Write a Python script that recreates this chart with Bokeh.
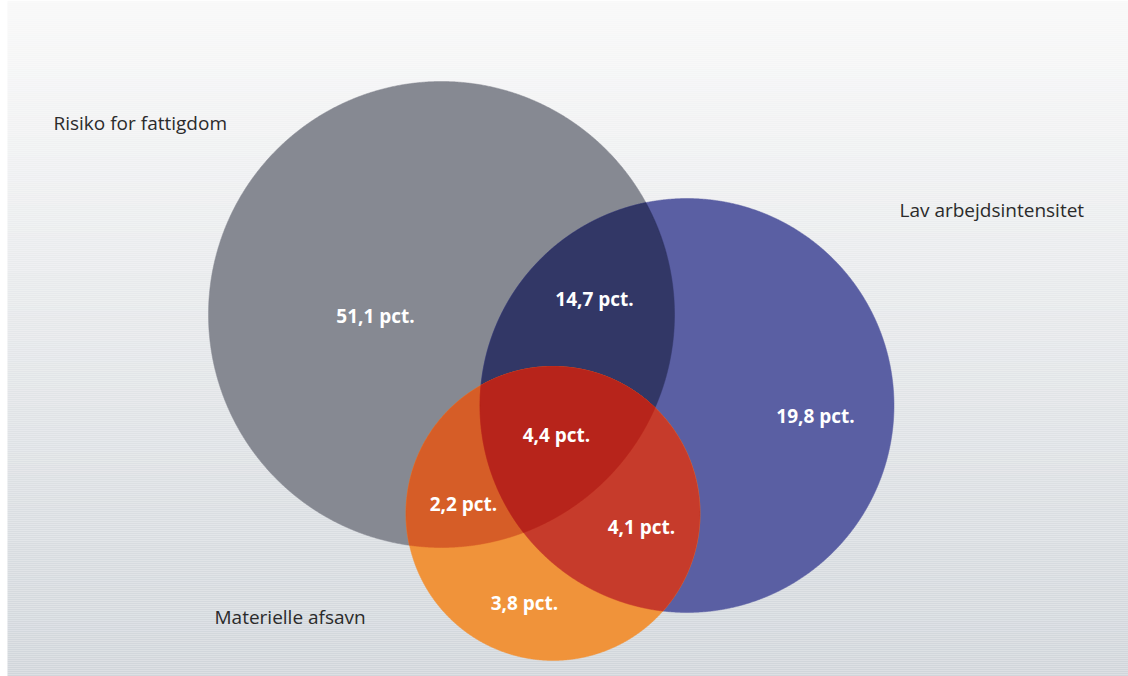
import numpy as np
from bokeh.plotting import figure
from bokeh.models import Range1d, ColumnDataSource
from bokeh.core.properties import value
from bokeh.embed import file_html
from bokeh.resources import INLINE

# ---- data ----
set_names = ["Risiko for fattigdom", "Lav arbejdsintensitet", "Materielle afsavn"]
region_names = ["Kun fattigdom", "Fattigdom + arbejdsintensitet", "Kun arbejdsintensitet",
                "Alle tre", "Fattigdom + afsavn", "Arbejdsintensitet + afsavn", "Kun afsavn"]
region_values = [51.1, 14.7, 19.8, 4.4, 2.2, 4.1, 3.8]

# ---- layout (screen pixel coordinates) ----
circ_cx = [441.0, 686.5, 552.5]
circ_cy = [314.0, 405.0, 513.0]
circ_r = [233.0, 207.0, 147.0]

region_lx = [375, 594, 815, 556, 463, 641, 524]
region_ly = [315, 298, 415, 434, 503, 526, 602]
set_lx = [53, 899, 214]
set_ly = [122, 209, 616]

col_single = ["#868992", "#5a5fa3", "#f0933a"]
col_ab = "#323766"
col_ac = "#d65d27"
col_bc = "#c63b2b"
col_abc = "#b7241b"

W, H = 1128, 676
BG_LEFT = 7

p = figure(width=W, height=H, x_range=Range1d(0, W), y_range=Range1d(H, 0),
           output_backend="svg", toolbar_location=None, min_border=0)
p.axis.visible = False
p.grid.visible = False
p.outline_line_color = None
p.background_fill_color = "white"
p.border_fill_color = None

# background gradient
top_rgb = np.array([249, 249, 249])
bot_rgb = np.array([209, 214, 219])
step = 2
ys = np.arange(0, H, step)
cols = []
for y in ys:
    t = y / H
    c = (top_rgb + (bot_rgb - top_rgb) * t).astype(int)
    cols.append("#%02x%02x%02x" % tuple(c))
p.quad(left=BG_LEFT, right=W, top=ys, bottom=ys + step, fill_color=cols, line_color=None)


def circle_pts(i, n=1440):
    th = np.linspace(0, 2 * np.pi, n, endpoint=False)
    return circ_cx[i] + circ_r[i] * np.cos(th), circ_cy[i] + circ_r[i] * np.sin(th)


def intersection(idx, n=3000):
    xs, ys_ = [], []
    for i in idx:
        x, y = circle_pts(i, n)
        m = np.ones_like(x, dtype=bool)
        for j in idx:
            if j == i:
                continue
            m &= (x - circ_cx[j]) ** 2 + (y - circ_cy[j]) ** 2 <= circ_r[j] ** 2 + 1e-6
        xs.append(x[m])
        ys_.append(y[m])
    x = np.concatenate(xs)
    y = np.concatenate(ys_)
    cx, cy = x.mean(), y.mean()
    order = np.argsort(np.arctan2(y - cy, x - cx))
    return list(x[order]), list(y[order])


shapes = []
for i in range(3):
    x, y = circle_pts(i)
    shapes.append((list(x), list(y), col_single[i]))
    if i == 1:
        x, y = intersection([0, 1])
        shapes.append((x, y, col_ab))
x, y = intersection([0, 2]); shapes.append((x, y, col_ac))
x, y = intersection([1, 2]); shapes.append((x, y, col_bc))
x, y = intersection([0, 1, 2]); shapes.append((x, y, col_abc))

for x, y, c in shapes:
    p.patch(x, y, fill_color=c, line_color=c, line_width=0.5)

labels = [("%.1f" % v).replace(".", ",") + " pct." for v in region_values]
src = ColumnDataSource(dict(x=region_lx, y=region_ly, t=labels))
p.text(x="x", y="y", text="t", source=src, text_font=value("Open Sans"),
       text_font_style="bold", text_font_size="19px", text_color="white",
       text_align="center", text_baseline="middle")

src2 = ColumnDataSource(dict(x=set_lx, y=set_ly, t=set_names))
p.text(x="x", y="y", text="t", source=src2, text_font=value("Open Sans"),
       text_font_size="19px", text_color="#2b2b2b",
       text_align="left", text_baseline="middle")

open("out.html", "w").write(file_html(p, INLINE))
